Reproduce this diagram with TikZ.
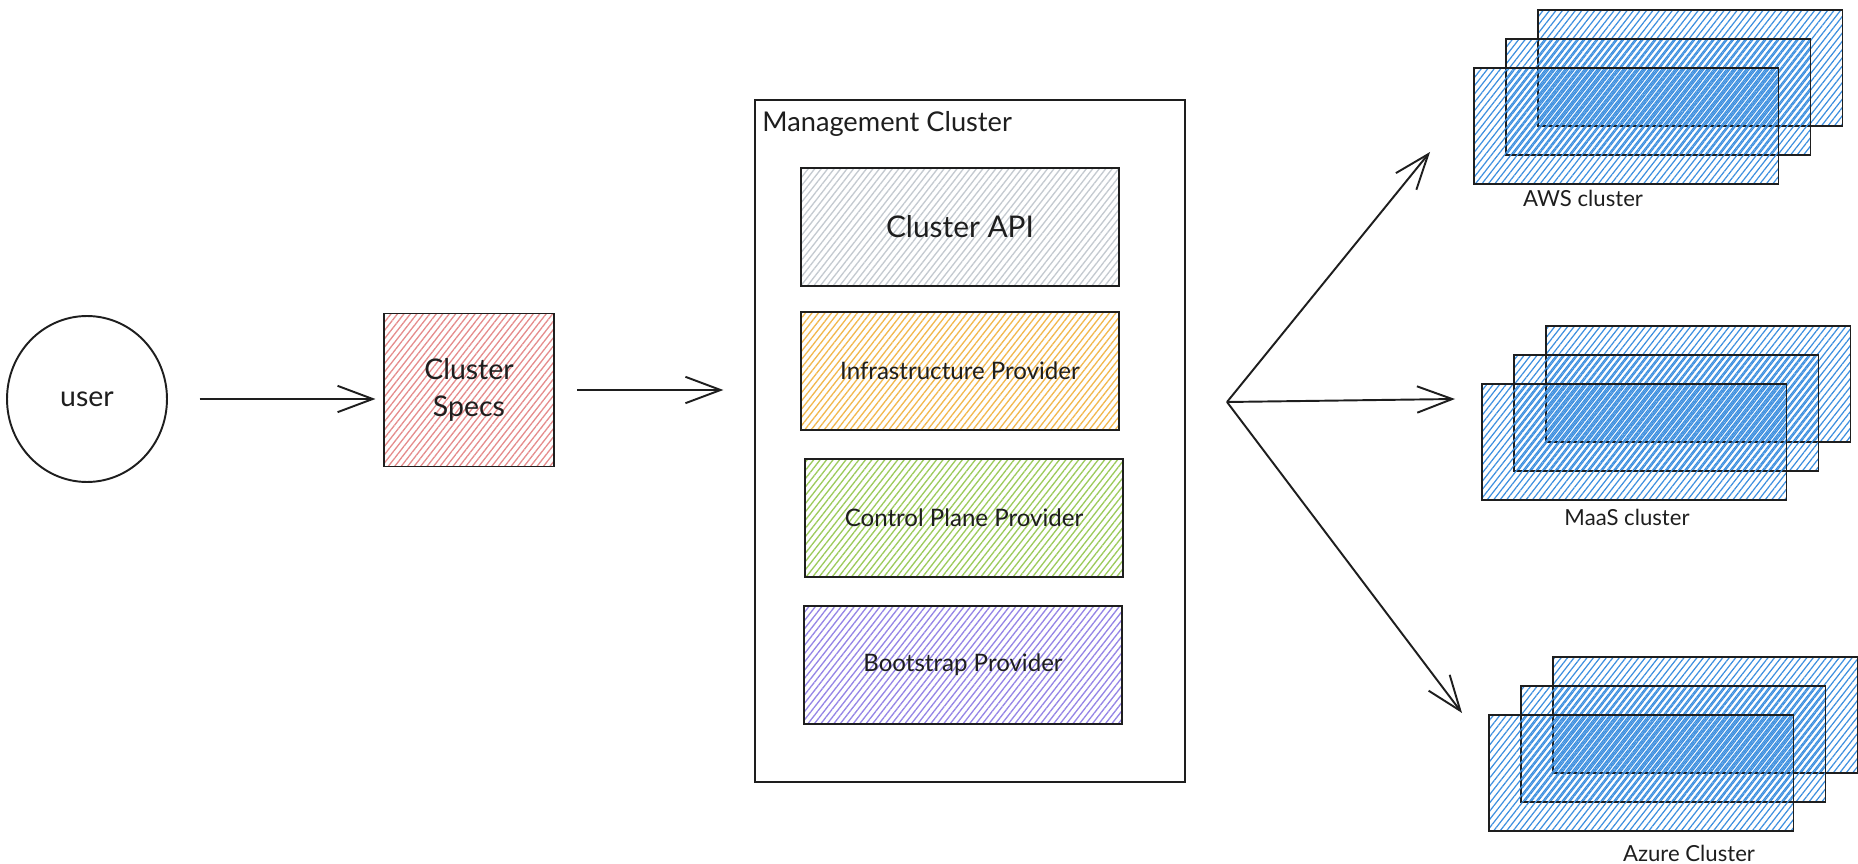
\documentclass[tikz,border=0pt]{standalone}
\usepackage{fontspec}
\setmainfont{Lato}
\usetikzlibrary{arrows.meta,patterns.meta,shapes.geometric}
\definecolor{ink}{HTML}{1E1E1E}
\definecolor{specred}{HTML}{E58C8C}
\definecolor{apigray}{HTML}{C4CAD0}
\definecolor{infraorange}{HTML}{F2B84E}
\definecolor{ctrlgreen}{HTML}{9CCB5C}
\definecolor{bootpurple}{HTML}{9585E6}
\definecolor{cloudblue}{HTML}{3D8FDF}
\newcommand{\apitxt}{\fontsize{17}{20}\selectfont}
\newcommand{\bigtxt}{\fontsize{16.2}{19}\selectfont}
\newcommand{\titletxt}{\fontsize{15.5}{18}\selectfont}
\newcommand{\midtxt}{\fontsize{13.7}{16}\selectfont}
\newcommand{\smalltxt}{\fontsize{12.6}{15}\selectfont}
\tikzset{hand/.style={draw=ink,line width=1.1pt}}
\tikzset{hatch/.style={pattern={Lines[angle=52,distance=2.9pt,line width=0.75pt]},pattern color=#1}}
\tikzset{userball/.style={hand,ellipse,minimum width=3.2cm,minimum height=3.32cm,font=\bigtxt}}
\tikzset{specsbox/.style={hand,hatch=specred,minimum width=3.4cm,minimum height=3.06cm,align=center,font=\bigtxt}}
\tikzset{mcbox/.style={hand,fill=white,minimum width=8.6cm,minimum height=13.64cm}}
\tikzset{provbox/.style={hand,hatch=#1,minimum width=6.36cm,minimum height=2.36cm,font=\midtxt}}
\tikzset{cloudlayer/.style={hand,pattern={Lines[angle=52,distance=2.9pt,line width=0.7pt,xshift=#1]},pattern color=cloudblue,minimum width=6.1cm,minimum height=2.32cm}}
\tikzset{arr/.style={draw=ink,line width=1.1pt,-{Straight Barb[length=20pt,width=15pt,line width=1.1pt]}}}

\begin{document}
\begin{tikzpicture}
                [x=0.02cm,y=-0.02cm,every node/.style={inner sep=0pt,text=ink}]
                \useasboundingbox (0,0) rectangle (1858,864);

                \node [userball] (user) at (87,399) {user};
                \node [specsbox] (specs) at (469,390) {Cluster\\[2pt]Specs};

                \node [mcbox] (mc) at (970,441) {};
                \node [anchor=west,font=\titletxt] (mctitle) at (762,124) {Management Cluster};
                \node [provbox=apigray,font=\apitxt] (api) at (960,227) {Cluster API};
                \node [provbox=infraorange] (infra) at (960,371) {Infrastructure Provider};
                \node [provbox=ctrlgreen] (ctrl) at (964,518) {Control Plane Provider};
                \node [provbox=bootpurple] (boot) at (963,665) {Bootstrap Provider};

                \foreach \nm/\cx/\cy in {aws/1626/126,maas/1634/442,azure/1641/773}
                \foreach \k in {2,1,0}
                \node [cloudlayer=\k*0.95pt] (\nm\k) at (\cx+32*\k,\cy-29*\k) {};

                \node [font=\smalltxt] (awslbl) at (1583,198) {AWS cluster};
                \node [font=\smalltxt] (maaslbl) at (1627,517) {MaaS cluster};
                \node [font=\smalltxt] (azurelbl) at (1689,853) {Azure Cluster};

                \coordinate (fan) at (1227,402);
                \coordinate (awsin) at (1430,152);
                \coordinate (maasin) at (1455,399);
                \coordinate (azurein) at (1462,713);

                \draw [arr,shorten <=18pt,shorten >=4.5pt] (user.east) -- (user.east -| specs.west);
                \draw [arr,shorten <=13pt,shorten >=17.5pt] (specs.east) -- (specs.east -| mc.west);
                \foreach \to in {awsin,maasin,azurein}
                \draw [arr] (fan) -- (\to);
            \end{tikzpicture}
\end{document}
